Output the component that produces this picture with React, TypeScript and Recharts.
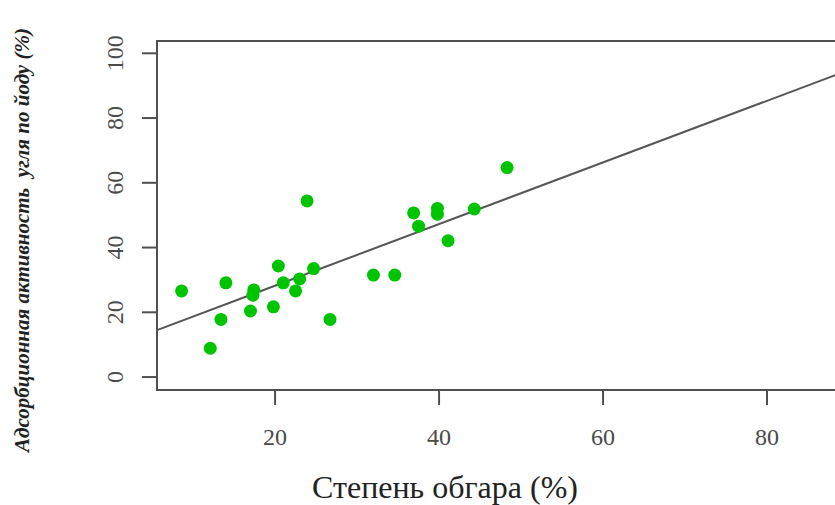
import { ScatterChart, Scatter, XAxis, YAxis, ReferenceLine, ReferenceArea } from "recharts";

// degree of char (%) vs iodine adsorption activity (%)
const burnX = [23.9, 8.6, 14.0, 20.4, 17.4, 17.3, 21.0, 23.0, 24.7, 22.5, 19.8, 17.0, 13.4, 12.1, 26.7, 32.0, 34.6, 36.9, 37.5, 39.8, 39.8, 41.1, 44.3, 48.3];
const activityY = [54.4, 26.6, 29.1, 34.3, 26.9, 25.3, 29.1, 30.3, 33.5, 26.6, 21.7, 20.4, 17.8, 8.9, 17.8, 31.5, 31.5, 50.7, 46.6, 52.1, 50.3, 42.1, 51.9, 64.7];

// regression line endpoints read at the plot edges
const fitX = [5.6, 88.9];
const fitY = [14.5, 93.8];

const xTicks = [20, 40, 60, 80];
const yTicks = [0, 20, 40, 60, 80, 100];

const points = burnX.map((x, i) => ({ x, y: activityY[i] }));

const AXIS = "#505050";
const TXT = "#4a4a4a";
const SERIF = "'Liberation Serif', 'Times New Roman', serif";

function XTick({ x, y, payload }: any) {
  return (
    <text x={x} y={y + 40} textAnchor="middle" style={{ fontFamily: SERIF, fontSize: 24, fill: TXT }}>
      {payload.value}
    </text>
  );
}

function YTick({ x, y, payload }: any) {
  const px = x - 19;
  return (
    <text x={px} y={y} transform={`rotate(-90 ${px} ${y})`} textAnchor="middle" style={{ fontFamily: SERIF, fontSize: 24, fill: TXT }}>
      {payload.value}
    </text>
  );
}

export default function App() {
  return (
    <div style={{ position: "absolute", left: 0, top: 0, width: 835, height: 505, overflow: "hidden", background: "#fff" }}>
      <ScatterChart width={845} height={505} margin={{ top: 41, right: 5, left: 97, bottom: 85 }}>
        <XAxis
          type="number"
          dataKey="x"
          domain={[5.6, 88.9]}
          ticks={xTicks}
          allowDataOverflow
          tick={<XTick />}
          tickSize={15}
          tickMargin={0}
          height={30}
          stroke={AXIS}
          strokeWidth={2}
        />
        <YAxis
          type="number"
          dataKey="y"
          domain={[-4, 103.8]}
          ticks={yTicks}
          allowDataOverflow
          tick={<YTick />}
          tickSize={15}
          tickMargin={0}
          width={60}
          stroke={AXIS}
          strokeWidth={2}
        />
        <ReferenceArea x1={5.6} x2={88.9} y1={-4} y2={103.8} fill="none" stroke={AXIS} strokeWidth={2} />
        <ReferenceLine
          segment={[{ x: fitX[0], y: fitY[0] }, { x: fitX[1], y: fitY[1] }]}
          stroke="#555"
          strokeWidth={2}
        />
        <Scatter data={points} fill="#00c400" shape={(p: any) => <circle cx={p.cx} cy={p.cy} r={6.5} fill="#00c400" />} isAnimationActive={false} />
      </ScatterChart>
      <div style={{ position: "absolute", left: 0, width: 890, top: 468, textAlign: "center", fontFamily: SERIF, fontSize: 32, color: "#222", lineHeight: "38px" }}>
        Степень обгара (%)
      </div>
      <div
        style={{
          position: "absolute",
          left: 22,
          top: 240,
          transform: "translate(-50%, -50%) rotate(-90deg)",
          whiteSpace: "pre",
          fontFamily: SERIF,
          fontStyle: "italic",
          fontWeight: "bold",
          fontSize: 21,
          color: "#222",
          lineHeight: "24px",
        }}
      >
        Адсорбционная активность  угля по йоду (%)
      </div>
    </div>
  );
}
